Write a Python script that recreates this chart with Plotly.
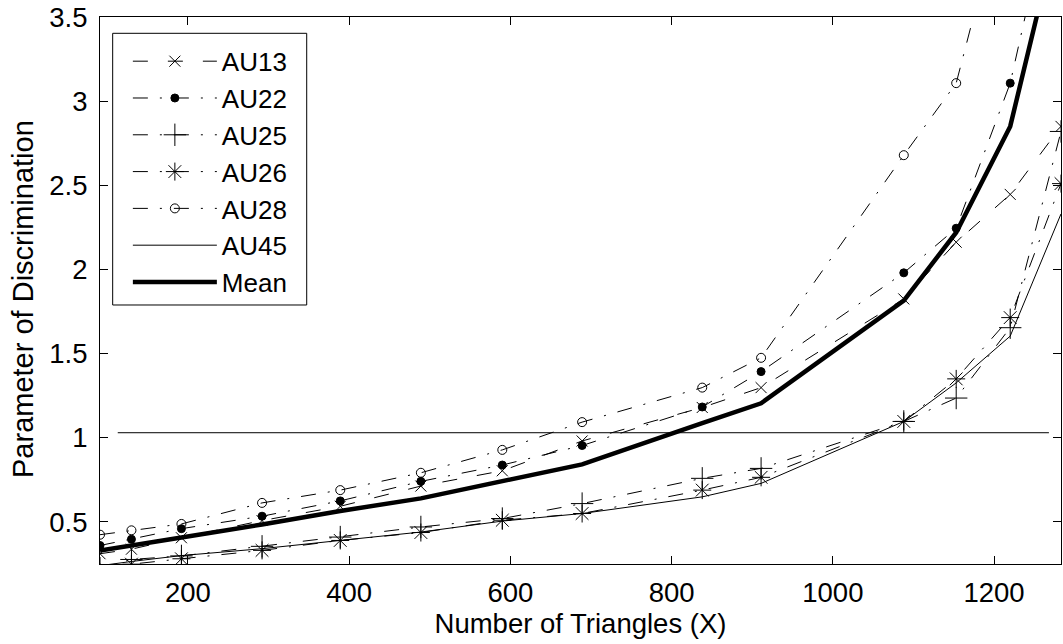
import plotly.graph_objects as go

# Number of triangles at which each AU model was evaluated
triangles = [91, 130, 192, 292, 389, 489, 590, 689, 838, 911, 1088, 1153, 1220, 1283]

# Parameter of discrimination per action unit
au13 = [0.311, 0.338, 0.406, 0.508, 0.593, 0.713, 0.804, 0.981, 1.180, 1.298, 1.825, 2.162, 2.446, 2.850]
au22 = [0.360, 0.397, 0.460, 0.534, 0.625, 0.741, 0.838, 0.954, 1.183, 1.393, 1.980, 2.245, 3.107, 4.450]
au25 = [0.225, 0.277, 0.298, 0.355, 0.410, 0.470, 0.520, 0.609, 0.759, 0.818, 1.097, 1.236, 1.654, 2.820]
au26 = [0.200, 0.249, 0.281, 0.331, 0.390, 0.437, 0.510, 0.550, 0.689, 0.765, 1.097, 1.350, 1.714, 2.510]
au28 = [0.424, 0.450, 0.488, 0.613, 0.689, 0.792, 0.928, 1.093, 1.298, 1.475, 2.679, 3.107, 4.300, 5.500]
au45 = [0.240, 0.265, 0.300, 0.341, 0.390, 0.440, 0.505, 0.550, 0.649, 0.729, 1.097, 1.326, 1.604, 2.330]
mean = [0.330, 0.358, 0.408, 0.485, 0.565, 0.640, 0.740, 0.842, 1.087, 1.205, 1.815, 2.220, 2.850, 4.100]

# Reference level drawn as a thin horizontal line
ref_x = [113, 1268]
ref_level = 1.03

x_ticks = [200, 400, 600, 800, 1000, 1200]
y_ticks = [0.5, 1, 1.5, 2, 2.5, 3, 3.5]

FONT = "Liberation Sans, Arial, Helvetica, sans-serif"
FS = 27.5
DASH = "15px,20px"
DASHDOT = "15px,12px,2px,12px"

series = [
    ("AU13", au13, DASH, "x-thin-open", 11),
    ("AU22", au22, DASHDOT, "circle", 8),
    ("AU25", au25, DASHDOT, "cross-thin-open", 16),
    ("AU26", au26, DASHDOT, "asterisk-open", 15),
    ("AU28", au28, DASHDOT, "circle-open", 9),
]

fig = go.Figure()
for name, vals, dash, sym, size in series:
    fig.add_trace(go.Scatter(
        x=triangles, y=vals, name=name, mode="lines+markers",
        line=dict(color="black", width=1, dash=dash),
        marker=dict(symbol=sym, size=size, color="black",
                    line=dict(color="black", width=1)),
    ))

fig.add_trace(go.Scatter(
    x=triangles, y=au45, name="AU45", mode="lines",
    line=dict(color="black", width=1),
))
fig.add_trace(go.Scatter(
    x=triangles, y=mean, name="Mean", mode="lines",
    line=dict(color="black", width=4.5),
))
fig.add_trace(go.Scatter(
    x=ref_x, y=[ref_level] * len(ref_x), mode="lines",
    line=dict(color="black", width=1), showlegend=False, hoverinfo="skip",
))

axis_common = dict(
    showgrid=False, zeroline=False, showline=True, linecolor="black",
    linewidth=1, mirror="ticks", ticks="inside", ticklen=8,
    tickcolor="black", tickwidth=1,
    tickfont=dict(family=FONT, size=FS, color="black"),
)

fig.update_layout(
    width=1063, height=644,
    margin=dict(l=100, r=2, t=17, b=80, pad=0),
    paper_bgcolor="white", plot_bgcolor="white",
    font=dict(family=FONT, size=FS, color="black"),
    xaxis=dict(range=[91, 1283], tickvals=x_ticks,
               ticktext=[str(v) for v in x_ticks],
               ticklabelstandoff=4,
               title=dict(text="Number of Triangles (X)", standoff=4,
                          font=dict(family=FONT, size=FS)),
               **axis_common),
    yaxis=dict(range=[0.25, 3.5], tickvals=y_ticks,
               ticktext=[f"{v:g}" for v in y_ticks],
               ticklabelstandoff=6,
               **axis_common),
    legend=dict(
        x=0.029, y=0.962, xanchor="left", yanchor="top",
        bgcolor="rgba(0,0,0,0)", borderwidth=0,
        itemwidth=84, font=dict(family=FONT, size=26),
        tracegroupgap=0,
    ),
    shapes=[dict(
        type="rect", xref="paper", yref="paper",
        x0=0.0132, x1=0.2151, y0=0.4735, y1=0.9702,
        line=dict(color="black", width=1), fillcolor="white", layer="below",
    )],
    annotations=[dict(
        text="Parameter of Discrimination", textangle=-90,
        xref="paper", yref="paper", x=-0.0801, y=0.4845,
        xanchor="center", yanchor="middle", showarrow=False,
        font=dict(family=FONT, size=29, color="black"),
    )],
    showlegend=True,
)

fig.write_html("out.html", config={"displayModeBar": False})
